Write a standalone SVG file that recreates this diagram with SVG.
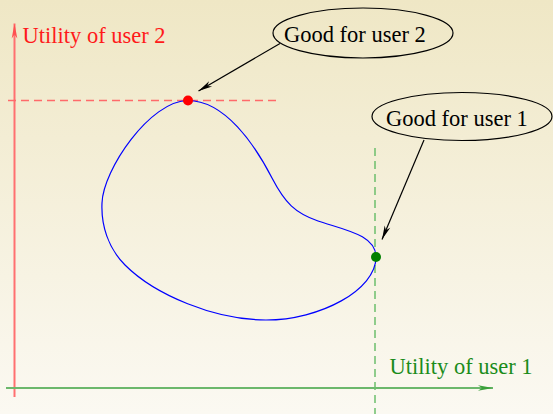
<svg xmlns="http://www.w3.org/2000/svg" width="553" height="414" viewBox="0 0 553 414">
<defs>
<linearGradient id="bg" x1="0" y1="0" x2="0" y2="1">
<stop offset="0" stop-color="#efe7c5"/>
<stop offset="1" stop-color="#fbf9f2"/>
</linearGradient>
<marker id="ah-red" markerUnits="userSpaceOnUse" markerWidth="20" markerHeight="10" viewBox="-16 -5 17 10" refX="0" refY="0" orient="auto">
<path d="M0,0 L-15,-2.8 L-11,0 L-15,2.8 Z" fill="#ff5050"/>
</marker>
<marker id="ah-green" markerUnits="userSpaceOnUse" markerWidth="20" markerHeight="10" viewBox="-16 -5 17 10" refX="0" refY="0" orient="auto">
<path d="M0,0 L-15,-2.8 L-11,0 L-15,2.8 Z" fill="#3aa03a"/>
</marker>
<marker id="ah-black" markerUnits="userSpaceOnUse" markerWidth="20" markerHeight="10" viewBox="-16 -5 17 10" refX="0" refY="0" orient="auto">
<path d="M0,0 L-14,-3 L-10,0 L-14,3 Z" fill="#000"/>
</marker>
</defs>
<style>
text { font-family: "Liberation Serif", "Times New Roman", serif; font-size: 22.5px; }
.lbl { fill: #000; }
.ell { fill: none; stroke: #000; stroke-width: 1.2; }
.conn { stroke: #000; stroke-width: 1.2; fill: none; }
</style>
<rect x="0" y="0" width="553" height="414" fill="url(#bg)"/>

<g id="axes">
<line x1="14.5" y1="397" x2="14.5" y2="23.5" stroke="#ff7070" stroke-width="2" marker-end="url(#ah-red)"/>
<line x1="6" y1="388" x2="493" y2="388" stroke="#6cb86c" stroke-width="2" marker-end="url(#ah-green)"/>
<text x="22.5" y="42.5" fill="#ff1a1a">Utility of user 2</text>
<text x="389.5" y="374" fill="#1a8c1a">Utility of user 1</text>
</g>

<g id="guides">
<line x1="8" y1="100.5" x2="277" y2="100.5" stroke="#ff6a6a" stroke-width="1.5" stroke-dasharray="8,5"/>
<line x1="375" y1="148" x2="375" y2="414" stroke="#6cbf6c" stroke-width="1.5" stroke-dasharray="8,5"/>
</g>

<g id="region">
<path d="M188,100.5 C225,100.5 255,145 272,178 C285,203 295,213 318,221 C345,230 376,235 376,257 C376,290 320,320 266,320 C215,320 155,295 125,265 C108,248 101,225 102,203 C103,170 150,100.5 188,100.5 Z" fill="none" stroke="#0000ff" stroke-width="1.2"/>
</g>

<g id="point-user2">
<circle cx="188" cy="100.5" r="5" fill="#ff0000"/>
</g>
<g id="point-user1">
<circle cx="376" cy="257" r="5" fill="#008000"/>
</g>

<g id="node-good2">
<ellipse cx="363" cy="33" rx="90" ry="25" class="ell"/>
<text x="284" y="42" class="lbl">Good for user 2</text>
</g>
<g id="node-good1">
<ellipse cx="462" cy="116.5" rx="90" ry="24" class="ell"/>
<text x="386" y="126" class="lbl">Good for user 1</text>
</g>

<g id="connectors">
<line x1="280" y1="43.5" x2="198.5" y2="91" class="conn" marker-end="url(#ah-black)"/>
<line x1="424" y1="140" x2="382" y2="239.5" class="conn" marker-end="url(#ah-black)"/>
</g>
</svg>
